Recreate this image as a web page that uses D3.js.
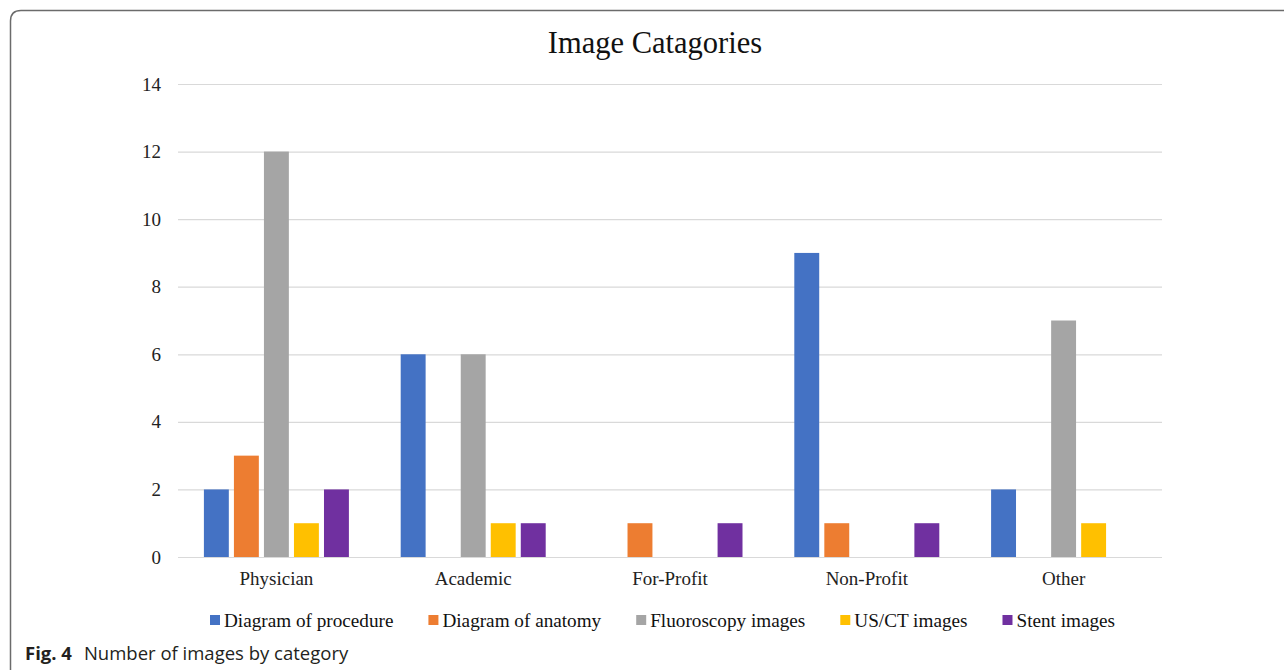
<!DOCTYPE html>
<html>
<head>
<meta charset="utf-8">
<script src="https://cdn.jsdelivr.net/npm/d3@7"></script>
<style>
  body { margin: 0; background: #fff; }
  svg { display: block; }
</style>
</head>
<body>
<div id="chart"></div>
<script>
// data
const categories = ['Physician', 'Academic', 'For-Profit', 'Non-Profit', 'Other'];
const seriesNames = ['Diagram of procedure', 'Diagram of anatomy', 'Fluoroscopy images', 'US/CT images', 'Stent images'];
const procedure = [2, 6, 0, 9, 2];
const anatomy = [3, 0, 1, 1, 0];
const fluoroscopy = [12, 6, 0, 0, 7];
const usct = [1, 1, 0, 0, 1];
const stent = [2, 1, 1, 1, 0];
const yTicks = [0, 2, 4, 6, 8, 10, 12, 14];

const seriesValues = [procedure, anatomy, fluoroscopy, usct, stent];
const colors = ['#4472C4', '#ED7D31', '#A5A5A5', '#FFC000', '#7030A0'];

const W = 1284, H = 670;
const plot = { left: 178, right: 1162, top: 84, bottom: 557 };
const serif = '"Liberation Serif", "Times New Roman", serif';

const svg = d3.select('#chart').append('svg')
    .attr('width', W)
    .attr('height', H);

// frame with rounded top-left corner
svg.append('path')
    .attr('d', `M10.5,${H + 5} L10.5,21 Q10.5,10.5 21,10.5 L${W + 5},10.5`)
    .attr('fill', 'none')
    .attr('stroke', '#6b6b6b')
    .attr('stroke-width', 1.5);

const x0 = d3.scaleBand()
    .domain(categories)
    .range([plot.left, plot.right]);

const x1 = d3.scaleBand()
    .domain(seriesNames)
    .range([0, 145])
    .paddingInner(0.17);

const y = d3.scaleLinear()
    .domain([0, 14])
    .range([plot.bottom, plot.top]);

// gridlines
svg.append('g')
    .selectAll('line')
    .data(yTicks)
    .enter()
    .append('line')
    .attr('x1', plot.left)
    .attr('x2', plot.right)
    .attr('y1', d => y(d) + 0.5)
    .attr('y2', d => y(d) + 0.5)
    .attr('stroke', '#d9d9d9')
    .attr('stroke-width', 1.2);

// y axis labels
const yAxis = svg.append('g')
    .attr('transform', `translate(${plot.left},0)`)
    .call(d3.axisLeft(y).tickValues(yTicks).tickSize(0).tickPadding(17));
yAxis.select('.domain').remove();
yAxis.selectAll('text')
    .style('font-family', serif)
    .style('font-size', '19px')
    .style('fill', '#222');

// x axis labels
const xAxis = svg.append('g')
    .attr('transform', `translate(0,${plot.bottom})`)
    .call(d3.axisBottom(x0).tickSize(0).tickPadding(15));
xAxis.select('.domain').remove();
xAxis.selectAll('text')
    .style('font-family', serif)
    .style('font-size', '19px')
    .style('fill', '#222');

// bars
const groups = svg.append('g')
    .selectAll('g')
    .data(categories)
    .enter()
    .append('g')
    .attr('transform', d => `translate(${x0(d) + (x0.bandwidth() - 145) / 2},0)`);

groups.selectAll('rect')
    .data((c, ci) => seriesNames.map((s, si) => ({ series: s, value: seriesValues[si][ci], color: colors[si] })))
    .enter()
    .append('rect')
    .filter(d => d.value > 0)
    .attr('x', d => x1(d.series))
    .attr('y', d => y(d.value))
    .attr('width', x1.bandwidth())
    .attr('height', d => y(0) - y(d.value))
    .attr('fill', d => d.color);

// title
svg.append('text')
    .attr('x', 655)
    .attr('y', 53)
    .attr('text-anchor', 'middle')
    .style('font-family', serif)
    .style('font-size', '30.5px')
    .style('fill', '#111')
    .text('Image Catagories');

// legend
const legend = svg.append('g').attr('transform', 'translate(210,620)');
let lx = 0;
seriesNames.forEach((name, i) => {
    const item = legend.append('g').attr('transform', `translate(${lx},0)`);
    item.append('rect')
        .attr('x', 0)
        .attr('y', -5)
        .attr('width', 10)
        .attr('height', 10)
        .attr('fill', colors[i]);
    const t = item.append('text')
        .attr('x', 14)
        .attr('y', 6.5)
        .style('font-family', serif)
        .style('font-size', '19.2px')
        .style('fill', '#111')
        .text(name);
    lx += 14 + t.node().getComputedTextLength() + 35;
});

// caption
const cap = svg.append('text')
    .attr('x', 25)
    .attr('y', 660)
    .style('font-family', '"Open Sans", "Noto Sans", sans-serif')
    .style('font-size', '18.5px')
    .style('fill', '#231f20');
cap.append('tspan').style('font-weight', 'bold').text('Fig. 4');
cap.append('tspan').attr('dx', 12).text('Number of images by category');
</script>
</body>
</html>
